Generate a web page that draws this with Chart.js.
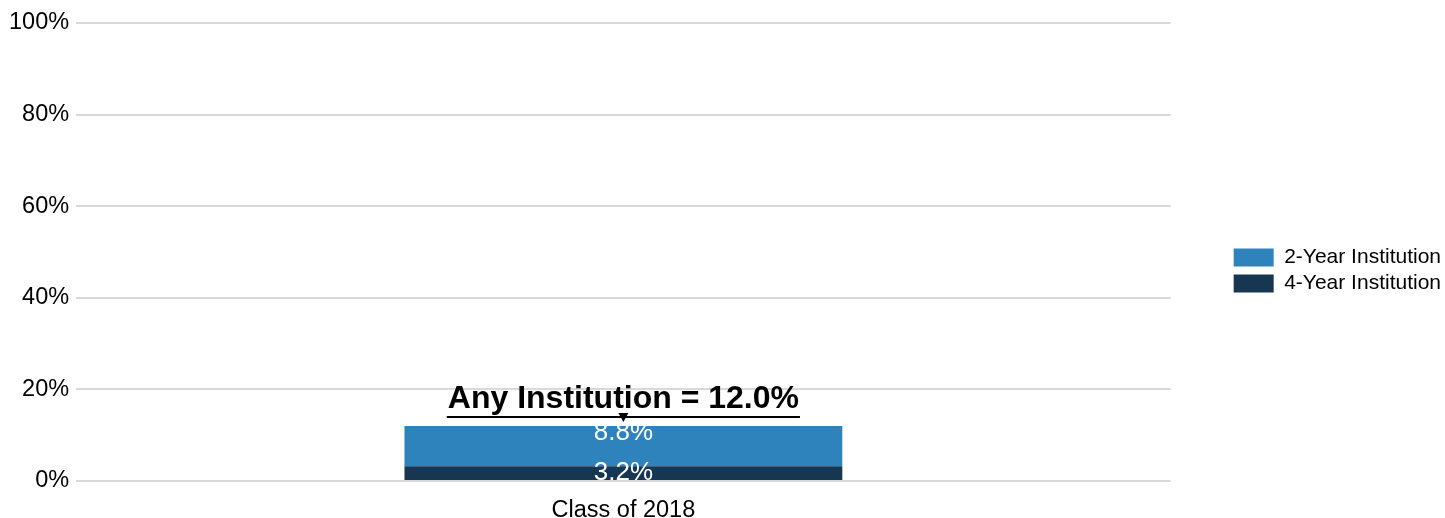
<!DOCTYPE html>
<html>
<head>
<meta charset="utf-8">
<script src="https://cdn.jsdelivr.net/npm/chart.js@4"></script>
<style>
  body { margin: 0; background: #fff; }
  #wrap { width: 1445px; height: 518px; }
</style>
</head>
<body>
<div id="wrap"><canvas id="chart" width="1445" height="518"></canvas></div>
<script>
const categories = ['Class of 2018'];
const fourYear = [3.2];
const twoYear = [8.8];
const seriesNames = ['4-Year Institution', '2-Year Institution'];
const yTicks = [0, 20, 40, 60, 80, 100];

const FONT = 'Arial, "Liberation Sans", sans-serif';

// white value labels + "Any Institution" callout above the stack
const barLabels = {
    id: 'barLabels',
    afterDatasetsDraw(chart) {
        const ctx = chart.ctx;
        ctx.save();
        ctx.font = '26px ' + FONT;
        ctx.fillStyle = '#fff';
        ctx.textAlign = 'center';
        ctx.textBaseline = 'alphabetic';
        chart.data.datasets.forEach((ds, i) => {
            chart.getDatasetMeta(i).data.forEach((bar, j) => {
                ctx.fillText(ds.data[j].toFixed(1) + '%', bar.x, bar.y + 14);
            });
        });
        // total callout
        const top = chart.getDatasetMeta(chart.data.datasets.length - 1).data;
        top.forEach((bar, j) => {
            const total = chart.data.datasets.reduce((s, ds) => s + ds.data[j], 0);
            const txt = 'Any Institution = ' + total.toFixed(1) + '%';
            ctx.font = 'bold 32px ' + FONT;
            ctx.fillStyle = '#000';
            ctx.fillText(txt, bar.x, bar.y - 18);
            const w = ctx.measureText(txt).width;
            ctx.strokeStyle = '#000';
            ctx.lineWidth = 2;
            ctx.beginPath();
            ctx.moveTo(bar.x - w / 2 - 1, bar.y - 9);
            ctx.lineTo(bar.x + w / 2 + 1, bar.y - 9);
            ctx.stroke();
            ctx.beginPath();
            ctx.moveTo(bar.x - 5, bar.y - 13);
            ctx.lineTo(bar.x + 5, bar.y - 13);
            ctx.lineTo(bar.x, bar.y - 4);
            ctx.closePath();
            ctx.fill();
        });
        ctx.restore();
    }
};

new Chart(document.getElementById('chart'), {
    type: 'bar',
    data: {
        labels: categories,
        datasets: [
            { label: seriesNames[0], data: fourYear, backgroundColor: '#163651' },
            { label: seriesNames[1], data: twoYear, backgroundColor: '#2f83bd' }
        ]
    },
    options: {
        responsive: false,
        animation: false,
        layout: { padding: { top: 23, right: -6, left: 2, bottom: 0 } },
        datasets: { bar: { barPercentage: 0.4, categoryPercentage: 1 } },
        scales: {
            x: {
                stacked: true,
                grid: { display: false, drawTicks: false },
                border: { display: false },
                ticks: { color: '#000', font: { family: FONT, size: 23.5 }, padding: 15 },
                afterFit(scale) { scale.height = 37; }
            },
            y: {
                stacked: true,
                min: 0,
                max: 100,
                afterBuildTicks(scale) { scale.ticks = yTicks.map(v => ({ value: v })); },
                ticks: {
                    color: '#000',
                    font: { family: FONT, size: 23.5 },
                    padding: 7,
                    callback: v => v + '%'
                },
                grid: { color: '#d9d9d9', lineWidth: 2, drawTicks: false },
                border: { display: false }
            },
            gap: {
                type: 'linear',
                position: 'right',
                display: true,
                grid: { display: false },
                ticks: { display: false },
                border: { display: false },
                afterFit(scale) { scale.width = 58; }
            }
        },
        plugins: {
            legend: {
                position: 'right',
                reverse: true,
                labels: {
                    color: '#000',
                    font: { family: FONT, size: 21 },
                    boxWidth: 40,
                    boxHeight: 18,
                    padding: 5
                }
            },
            tooltip: { enabled: false }
        }
    },
    plugins: [barLabels]
});
</script>
</body>
</html>
